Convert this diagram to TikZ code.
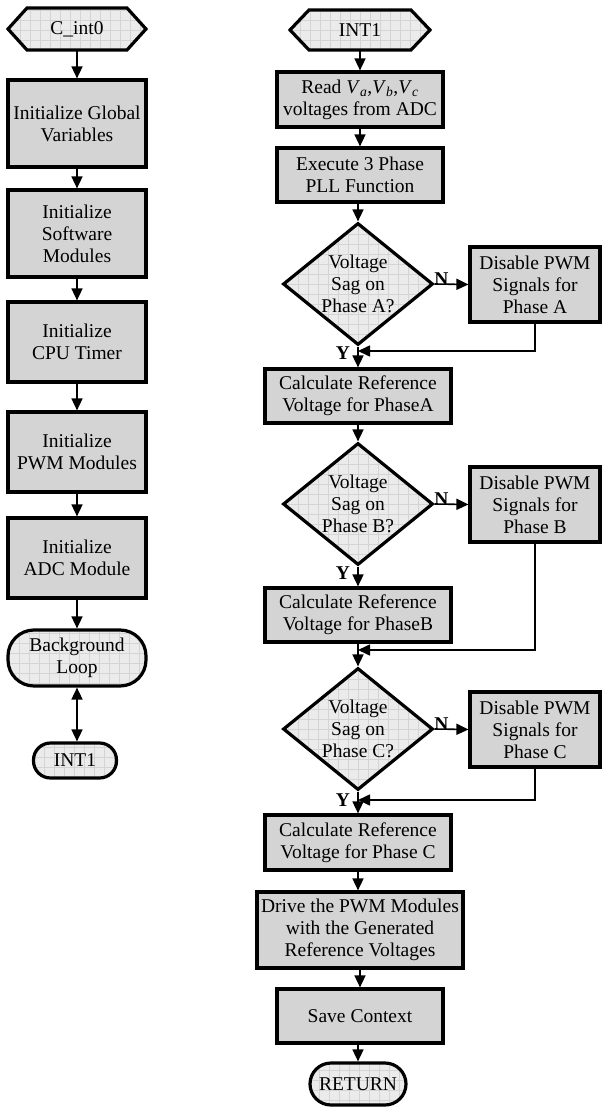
\documentclass[tikz,border=0pt]{standalone}
\usepackage{fontspec}
\setmainfont{Liberation Serif}
\usetikzlibrary{arrows.meta,shapes.geometric,calc}
\newcommand\Vs[1]{\textit{V}\textsubscript{\textit{#1}}}
\newcommand\hexat[5]{% center x, center y, half width, half height, slant
  \begin{scope}
    \clip (#1-#3,#2) -- (#1-#3+#5,#2-#4) -- (#1+#3-#5,#2-#4) -- (#1+#3,#2) -- (#1+#3-#5,#2+#4) -- (#1-#3+#5,#2+#4) -- cycle;
    \fill[lightfill] (#1-#3,#2-#4) rectangle (#1+#3,#2+#4);
    \draw[gridline] (#1-#3,#2-#4) grid (#1+#3,#2+#4);
  \end{scope}
  \draw[line width=3.2pt, line join=miter] (#1-#3,#2) -- (#1-#3+#5,#2-#4) -- (#1+#3-#5,#2-#4) -- (#1+#3,#2) -- (#1+#3-#5,#2+#4) -- (#1-#3+#5,#2+#4) -- cycle;
}
\tikzset{
  lightfill/.style={fill=black!8},
  gridline/.style={draw=black!17, line width=0.4pt, step=10pt},
  gridpic/.style={path picture={\draw[gridline] (path picture bounding box.south west) grid (path picture bounding box.north east);}},
  base/.style={align=center, inner sep=0pt, font=\fontsize{19.5}{22}\selectfont},
  procbox/.style={base, draw, line width=3.2pt, fill=black!17, rectangle},
  hexnode/.style={base, rectangle},
  term/.style={base, draw, line width=3.2pt, lightfill, gridpic, rounded corners=#1},
  decision/.style={base, draw, line width=3.2pt, lightfill, gridpic, diamond, aspect=1.23, minimum width=150pt, minimum height=122pt},
  arr/.style={line width=1.6pt, -{Triangle[length=12pt,width=11pt]}},
  darr/.style={line width=1.6pt, {Triangle[length=12pt,width=11pt]}-{Triangle[length=12pt,width=11pt]}},
  lab/.style={font=\fontsize{19.5}{22}\selectfont\bfseries, inner sep=0pt}
}
\begin{document}
\begin{tikzpicture}[x=1pt,y=-1pt]
\useasboundingbox (0,0) rectangle (602,1107);
% ---------- left column ----------
\hexat{77}{29}{69}{21}{19}
\node[hexnode, minimum width=138pt, minimum height=42pt] (c0) at (77,29) {C\_int0};
\node[procbox, minimum width=138pt, minimum height=87pt] (g1) at (77,123.5) {Initialize Global\\Variables};
\node[procbox, minimum width=138pt, minimum height=87pt] (g2) at (77,233.5) {Initialize\\Software\\Modules};
\node[procbox, minimum width=138pt, minimum height=80pt] (g3) at (77,342) {Initialize\\CPU Timer};
\node[procbox, minimum width=138pt, minimum height=80pt] (g4) at (77,452) {Initialize\\PWM Modules};
\node[procbox, minimum width=138pt, minimum height=80pt] (g5) at (77,558) {Initialize\\ADC Module};
\node[term=26pt, minimum width=138pt, minimum height=56pt] (bg) at (77,658) {Background\\Loop};
\node[term=17pt, minimum width=83pt, minimum height=35pt] (i1) at (75,760.5) {INT1};
\draw[arr] (c0.south) -- (g1.north);
\draw[arr] (g1.south) -- (g2.north);
\draw[arr] (g2.south) -- (g3.north);
\draw[arr] (g3.south) -- (g4.north);
\draw[arr] (g4.south) -- (g5.north);
\draw[arr] (g5.south) -- (bg.north);
\draw[darr] (bg.south) -- (bg.south |- i1.north);
% ---------- right column ----------
\hexat{360}{30}{70}{20}{19}
\node[hexnode, minimum width=140pt, minimum height=40pt] (int1) at (360,30) {INT1};
\node[procbox, minimum width=166pt, minimum height=55pt] (read) at (360,99.5) {Read \Vs{a},\Vs{b},\Vs{c}\\voltages from ADC};
\node[procbox, minimum width=166pt, minimum height=54pt] (pll) at (360,175) {Execute 3 Phase\\PLL Function};
\node[decision] (dA) at (358,284) {Voltage\\Sag on\\Phase A?};
\node[procbox, minimum width=130pt, minimum height=75pt] (disA) at (535,284.5) {Disable PWM\\Signals for\\Phase A};
\node[procbox, minimum width=186pt, minimum height=54pt] (calcA) at (358,396) {Calculate Reference\\Voltage for PhaseA};
\node[decision] (dB) at (358,504) {Voltage\\Sag on\\Phase B?};
\node[procbox, minimum width=130pt, minimum height=75pt] (disB) at (535,504.5) {Disable PWM\\Signals for\\Phase B};
\node[procbox, minimum width=186pt, minimum height=54pt] (calcB) at (358,615) {Calculate Reference\\Voltage for PhaseB};
\node[decision] (dC) at (358,729) {Voltage\\Sag on\\Phase C?};
\node[procbox, minimum width=130pt, minimum height=75pt] (disC) at (535,729.5) {Disable PWM\\Signals for\\Phase C};
\node[procbox, minimum width=186pt, minimum height=55pt] (calcC) at (358,842.5) {Calculate Reference\\Voltage for Phase C};
\node[procbox, minimum width=206pt, minimum height=76pt] (drive) at (360,930) {Drive the PWM Modules\\with the Generated\\Reference Voltages};
\node[procbox, minimum width=166pt, minimum height=54pt] (save) at (360,1016) {Save Context};
\node[term=21pt, minimum width=96pt, minimum height=42pt] (ret) at (358,1084) {RETURN};
\coordinate (mA) at (358,351);
\coordinate (mB) at (358,650);
\coordinate (mC) at (358,800);
\draw[arr] (int1.south) -- (read.north);
\draw[arr] (read.south) -- (pll.north);
\draw[arr] (pll.south -| dA.north) -- (dA.north);
\draw[arr] (dA.east) -- node[lab, above, pos=0.2, yshift=-2pt] {N} (disA.west);
\draw[arr] (dA.south) -- (calcA.north);
\node[lab] at (343,353) {Y};
\draw[arr] (disA.south) |- (mA);
\draw[arr] (calcA.south) -- (dB.north);
\draw[arr] (dB.east) -- node[lab, above, pos=0.2, yshift=-2pt] {N} (disB.west);
\draw[arr] (dB.south) -- (calcB.north);
\node[lab] at (343,573) {Y};
\draw[arr] (disB.south) |- (mB);
\draw[arr] (calcB.south) -- (dC.north);
\draw[arr] (dC.east) -- node[lab, above, pos=0.2, yshift=-2pt] {N} (disC.west);
\draw[arr] (dC.south) -- (calcC.north);
\node[lab] at (343,800) {Y};
\draw[arr] (disC.south) |- (mC);
\draw[arr] (calcC.south) -- (drive.north -| calcC.south);
\draw[arr] (drive.south -| save.south) -- (save.north);
\draw[arr] (save.south -| ret.north) -- (ret.north);
\end{tikzpicture}
\end{document}
